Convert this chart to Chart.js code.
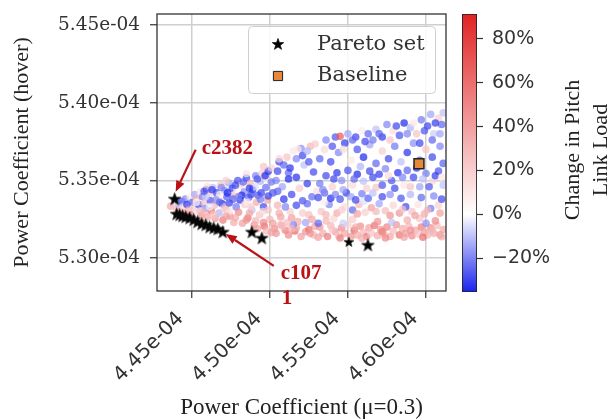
<!DOCTYPE html>
<html><head><meta charset="utf-8">
<script src="https://cdn.jsdelivr.net/npm/chart.js@4/dist/chart.umd.min.js"></script>
<style>
html,body{margin:0;padding:0;background:#fff;}
#wrap{position:relative;width:612px;height:419px;overflow:hidden;}
#main{position:absolute;left:0;top:0;}
#cbar{position:absolute;left:440px;top:0;}
</style></head><body>
<div id="wrap"><canvas id="main" width="612" height="419"></canvas><canvas id="cbar" width="172" height="419"></canvas></div>
<script>
// ---- data (power coefficients in units of 1e-4) ----
const xTicks = [4.45, 4.50, 4.55, 4.60];
const yTicks = [5.30, 5.35, 5.40, 5.45];
const cTicks = [-20, 0, 20, 40, 60, 80];
const xRange = [4.4278, 4.6128];
const yRange = [5.2789, 5.4571];
const cRange = [-35.5, 91.4];

const paretoX = [4.4391, 4.4404, 4.4423, 4.4442, 4.4462, 4.4487, 4.4513, 4.4538, 4.4564, 4.4590, 4.4615, 4.4641, 4.4667, 4.4699, 4.4885, 4.4949, 4.5506, 4.5628];
const paretoY = [5.3382, 5.3285, 5.3279, 5.3272, 5.3266, 5.3259, 5.3247, 5.3234, 5.3221, 5.3214, 5.3201, 5.3195, 5.3188, 5.3169, 5.3169, 5.3130, 5.3105, 5.3085];

const baselineX = [4.5955];
const baselineY = [5.3608];

// design samples: [Cp forward, Cp hover, change in pitch link load %]
const samples = [
[4.4365,5.3335,35],[4.4405,5.3315,28],[4.4415,5.3350,-12],[4.4425,5.3300,45],[4.4435,5.3365,-28],
[4.4445,5.3330,18],[4.4455,5.3290,40],[4.4460,5.3380,-20],[4.4470,5.3345,-32],[4.4480,5.3310,30],
[4.4490,5.3395,8],[4.4495,5.3280,52],[4.4505,5.3360,-25],[4.4515,5.3325,22],[4.4520,5.3410,-15],
[4.4530,5.3380,35],[4.4540,5.3300,-5],[4.4545,5.3345,-30],[4.4555,5.3425,12],[4.4560,5.3275,48],
[4.4570,5.3395,-22],[4.4580,5.3355,25],[4.4585,5.3320,-18],[4.4595,5.3440,-34],[4.4600,5.3265,38],
[4.4610,5.3410,20],[4.4620,5.3370,-28],[4.4625,5.3305,60],[4.4635,5.3455,-10],[4.4645,5.3340,30],
[4.4650,5.3255,42],[4.4660,5.3420,-30],[4.4670,5.3385,15],[4.4675,5.3290,-12],[4.4685,5.3470,25],
[4.4695,5.3350,-35],[4.4700,5.3245,55],[4.4710,5.3435,-20],[4.4720,5.3315,32],[4.4725,5.3395,-26],
[4.4735,5.3485,-15],[4.4745,5.3270,45],[4.4750,5.3360,10],[4.4760,5.3450,-32],[4.4770,5.3230,35],
[4.4775,5.3410,28],[4.4785,5.3330,-22],[4.4795,5.3500,-28],[4.4800,5.3295,50],[4.4810,5.3375,-34],
[4.4815,5.3465,18],[4.4825,5.3225,40],[4.4835,5.3425,-18],[4.4840,5.3345,22],[4.4850,5.3515,-30],
[4.4860,5.3260,58],[4.4865,5.3390,-25],[4.4875,5.3480,30],[4.4885,5.3310,-10],[4.4890,5.3440,-33],
[4.4900,5.3215,45],[4.4910,5.3530,-20],[4.4915,5.3360,35],[4.4925,5.3405,-28],[4.4935,5.3280,25],
[4.4940,5.3495,-12],[4.4950,5.3545,20],[4.4960,5.3330,-30],[4.4965,5.3205,62],[4.4975,5.3455,-24],
[4.4985,5.3375,40],[4.4990,5.3560,-32],[4.5000,5.3250,30],[4.4530,5.3360,3],[4.4615,5.3330,-3],
[4.4680,5.3410,5],[4.4740,5.3300,12],[4.4790,5.3440,2],[4.4855,5.3360,8],[4.4905,5.3460,-6],
[4.4955,5.3300,15],[4.4555,5.3305,28],[4.4655,5.3375,-18],[4.4765,5.3380,-26],[4.4870,5.3290,38],
[4.4945,5.3420,-30],[4.4590,5.3395,-8],[4.4705,5.3330,20],[4.4820,5.3405,-35],[4.4980,5.3510,10],
[4.5010,5.3580,18],[4.5020,5.3420,-28],[4.5030,5.3190,48],[4.5040,5.3500,-20],[4.5050,5.3340,32],
[4.5060,5.3620,-30],[4.5070,5.3265,40],[4.5080,5.3460,-15],[4.5090,5.3380,-33],[4.5100,5.3180,55],
[4.5110,5.3650,25],[4.5120,5.3550,-25],[4.5130,5.3300,20],[4.5140,5.3410,-30],[4.5150,5.3690,10],
[4.5160,5.3175,65],[4.5170,5.3520,-34],[4.5180,5.3235,35],[4.5190,5.3450,22],[4.5200,5.3705,-18],
[4.5210,5.3370,-28],[4.5220,5.3600,-10],[4.5230,5.3170,45],[4.5240,5.3480,-32],[4.5250,5.3280,28],
[4.5260,5.3720,30],[4.5270,5.3395,-24],[4.5280,5.3555,-30],[4.5290,5.3205,38],[4.5300,5.3430,15],
[4.4920,5.3190,40],[4.4980,5.3175,30],[4.5040,5.3160,45],[4.5080,5.3205,25],[4.5120,5.3150,50],
[4.5170,5.3195,35],[4.5200,5.3140,40],[4.5250,5.3185,60],[4.5280,5.3150,28],[4.5320,5.3200,45],
[4.5340,5.3160,35],[4.5370,5.3140,55],[4.5390,5.3210,30],[4.5420,5.3170,42],[4.5440,5.3145,25],
[4.5460,5.3195,50],[4.5480,5.3160,38],[4.5500,5.3215,20],[4.5520,5.3140,45],[4.5540,5.3180,65],
[4.5560,5.3150,35],[4.5580,5.3205,48],[4.5600,5.3165,30],[4.5620,5.3140,55],[4.5635,5.3195,40],
[4.5650,5.3160,25],[4.5670,5.3210,60],[4.5690,5.3145,35],[4.5710,5.3185,45],[4.5730,5.3155,30],
[4.5750,5.3200,52],[4.5770,5.3140,38],[4.5790,5.3175,28],[4.5810,5.3215,45],[4.5830,5.3150,60],
[4.5850,5.3190,35],[4.5870,5.3160,42],[4.5890,5.3205,30],[4.5910,5.3145,50],[4.5930,5.3180,38],
[4.5950,5.3155,25],[4.5970,5.3200,55],[4.5990,5.3165,40],[4.6010,5.3150,32],[4.6030,5.3195,48],
[4.6050,5.3160,35],[4.6070,5.3210,28],[4.6090,5.3150,45],[4.6110,5.3185,38],[4.5150,5.3215,-20],
[4.5230,5.3230,-15],[4.5310,5.3225,-25],[4.5470,5.3225,-8],[4.5780,5.3230,-10],[4.6000,5.3225,-18],
[4.5360,5.3240,30],[4.5530,5.3250,22],[4.5690,5.3235,45],[4.5880,5.3245,35],[4.6060,5.3240,50],
[4.5410,5.3255,18],[4.5960,5.3255,25],[4.5330,5.3300,25],[4.5380,5.3345,-20],[4.5430,5.3290,35],
[4.5480,5.3330,15],[4.5530,5.3310,-25],[4.5570,5.3345,30],[4.5610,5.3295,20],[4.5650,5.3325,40],
[4.5700,5.3350,-15],[4.5740,5.3305,28],[4.5790,5.3340,18],[4.5830,5.3290,45],[4.5870,5.3330,-30],
[4.5910,5.3300,25],[4.5950,5.3345,12],[4.5990,5.3285,35],[4.6030,5.3320,-22],[4.6080,5.3340,20],
[4.5350,5.3360,8],[4.5600,5.3365,-5],[4.5310,5.3390,-30],[4.5350,5.3420,-25],[4.5390,5.3385,-34],
[4.5420,5.3410,-20],[4.5450,5.3380,-28],[4.5490,5.3420,-32],[4.5520,5.3395,-15],[4.5550,5.3375,-30],
[4.5590,5.3415,-22],[4.5630,5.3385,-26],[4.5660,5.3420,-10],[4.5720,5.3395,-30],[4.5770,5.3410,-18],
[4.5840,5.3385,-28],[4.5900,5.3410,-12],[4.5970,5.3390,-25],[4.6050,5.3400,-20],[4.6100,5.3380,-30],
[4.5320,5.3480,-22],[4.5360,5.3530,-30],[4.5400,5.3460,20],[4.5430,5.3550,-33],[4.5460,5.3500,-18],
[4.5500,5.3565,-28],[4.5530,5.3470,15],[4.5560,5.3540,-35],[4.5600,5.3495,-10],[4.5640,5.3560,-30],
[4.5680,5.3455,25],[4.5700,5.3540,-32],[4.5740,5.3575,-20],[4.5780,5.3500,-28],[4.5820,5.3550,-34],
[4.5860,5.3470,10],[4.5880,5.3565,-25],[4.5920,5.3520,-30],[4.5960,5.3460,-15],[4.6000,5.3545,-22],
[4.6040,5.3495,18],[4.6080,5.3560,-28],[4.6110,5.3470,-10],[4.5380,5.3580,5],[4.5580,5.3590,-12],
[4.5320,5.3640,-25],[4.5350,5.3700,15],[4.5390,5.3620,-30],[4.5440,5.3680,-20],[4.5480,5.3740,-32],
[4.5520,5.3630,10],[4.5560,5.3700,-28],[4.5600,5.3650,-35],[4.5640,5.3730,-15],[4.5680,5.3610,-25],
[4.5720,5.3690,20],[4.5760,5.3640,-30],[4.5800,5.3720,-22],[4.5840,5.3620,-10],[4.5880,5.3680,-34],
[4.5920,5.3740,-18],[4.5960,5.3630,-28],[4.6000,5.3700,25],[4.6040,5.3650,-30],[4.6090,5.3720,-20],
[4.6110,5.3610,-26],[4.5420,5.3780,-28],[4.5450,5.3785,70],[4.5500,5.3800,-15],[4.5550,5.3780,-30],
[4.5590,5.3820,8],[4.5630,5.3800,-25],[4.5680,5.3830,-10],[4.5720,5.3780,-32],[4.5750,5.3860,-20],
[4.5790,5.3820,15],[4.5830,5.3790,-28],[4.5860,5.3870,-35],[4.5900,5.3840,-12],[4.5940,5.3800,25],
[4.5970,5.3890,-22],[4.6010,5.3850,-30],[4.6050,5.3800,-8],[4.6080,5.3900,20],[4.6100,5.3860,-25],
[4.6030,5.3925,-15],[4.6110,5.3935,-10],[4.5660,5.3760,-22],[4.4600,5.3460,15],[4.4720,5.3500,20],
[4.4850,5.3545,12],[4.4960,5.3590,25],[4.5060,5.3640,18],[4.5180,5.3700,10],[4.5290,5.3735,22],
[4.4580,5.3430,-28],[4.4630,5.3440,-32],[4.4690,5.3455,-20],[4.4730,5.3420,-35],[4.4780,5.3470,-30],
[4.4830,5.3490,-25],[4.4870,5.3450,-33],[4.4920,5.3510,-28],[4.4970,5.3530,-35],[4.5010,5.3490,-22],
[4.5050,5.3560,-30],[4.5090,5.3600,-25],[4.5130,5.3580,-33],[4.5170,5.3640,-20],[4.5210,5.3660,-30],
[4.5250,5.3620,-28],[4.5240,5.3690,-12],[4.5120,5.3510,-35],[4.5050,5.3430,-26],[4.4990,5.3400,-30],
[4.4940,5.3380,-22],[4.4880,5.3410,-30],[4.4800,5.3395,-20],[4.4740,5.3355,-30],[4.4680,5.3360,-25],
[4.4580,5.3290,30],[4.4640,5.3280,25],[4.4720,5.3270,40],[4.4780,5.3260,35],[4.4850,5.3245,45],
[4.4910,5.3240,30],[4.4960,5.3230,50],[4.5020,5.3225,40],[4.5070,5.3215,35],[4.5110,5.3230,28],
[4.4880,5.3330,20],[4.4990,5.3310,25],[4.5060,5.3290,35],[4.5140,5.3260,40],[4.5210,5.3290,22],
[4.5270,5.3250,38],[4.5100,5.3330,-20],[4.5170,5.3340,-30],[4.5240,5.3350,-25],
[4.5340,5.3440,-20],[4.5410,5.3510,-30],[4.5470,5.3440,-15],[4.5540,5.3510,-25],[4.5620,5.3450,20],
[4.5660,5.3520,-30],[4.5720,5.3470,-28],[4.5760,5.3530,15],[4.5800,5.3450,-30],[4.5850,5.3520,-20],
[4.5900,5.3460,25],[4.5940,5.3580,-33],[4.5980,5.3510,-10],[4.6020,5.3460,-28],[4.6060,5.3530,-32],
[4.6100,5.3520,10],[4.5360,5.3760,-20],[4.5400,5.3720,-28],[4.5470,5.3700,15],[4.5530,5.3760,-25],
[4.5610,5.3750,-30],[4.5700,5.3800,-26],[4.5770,5.3760,25],[4.5810,5.3850,-30],[4.5880,5.3800,-20],
[4.5920,5.3870,10],[4.5990,5.3820,-28],[4.6060,5.3870,-32],[4.6090,5.3800,-15],[4.6040,5.3760,-25],
[4.5960,5.3740,-30],[4.5310,5.3135,40],[4.5450,5.3130,55],[4.5590,5.3128,35],[4.5740,5.3130,50],
[4.5860,5.3135,40],[4.5980,5.3135,60],[4.6100,5.3138,35],[4.5010,5.3165,40],[4.5140,5.3190,30],
[4.5260,5.3160,45],[4.5400,5.3185,25],[4.5550,5.3200,35],[4.5720,5.3170,55],[4.5900,5.3180,45],
[4.6040,5.3175,30],[4.5360,5.3280,30],[4.5460,5.3310,20],[4.5560,5.3285,40],[4.5680,5.3300,30],
[4.5770,5.3275,45],[4.5850,5.3315,25],[4.5930,5.3275,40],[4.6010,5.3310,30],[4.6090,5.3290,40]
];

// ---- styling ----
const cmapLo = [25, 35, 235], cmapMid = [255, 255, 255], cmapHi = [225, 35, 35];
function cmap(c, a) {
  let t, to;
  if (c < 0) { t = Math.min(1, c / cRange[0]); to = cmapLo; }
  else { t = Math.min(1, c / cRange[1]); to = cmapHi; }
  const rgb = cmapMid.map((m, i) => Math.round(m + (to[i] - m) * t));
  return `rgba(${rgb[0]},${rgb[1]},${rgb[2]},${a})`;
}
function makeStar(R) {
  const s = Math.ceil(R * 2 + 2), cv = document.createElement('canvas');
  cv.width = s; cv.height = s;
  const g = cv.getContext('2d'), cx = s / 2, cy = s / 2 + R * 0.08, r = R * 0.40;
  g.beginPath();
  for (let i = 0; i < 10; i++) {
    const ang = -Math.PI / 2 + i * Math.PI / 5, rr = i % 2 ? r : R;
    g.lineTo(cx + rr * Math.cos(ang), cy + rr * Math.sin(ang));
  }
  g.closePath(); g.fillStyle = '#000'; g.fill();
  g.lineWidth = 0.8; g.strokeStyle = '#111'; g.stroke();
  return cv;
}
const starBig = makeStar(6.5), starSmall = makeStar(5), starLegend = makeStar(6);
const fmtE = v => v.toFixed(2) + 'e-04';
const noPad = s => { s.paddingTop = 0; s.paddingBottom = 0; s.paddingLeft = 0; s.paddingRight = 0; };

const framePlugin = {
  id: 'frame',
  afterDraw(chart) {
    const {ctx, chartArea: a} = chart;
    ctx.save(); ctx.strokeStyle = '#333'; ctx.lineWidth = 1.3;
    ctx.strokeRect(a.left, a.top, a.right - a.left, a.bottom - a.top);
    ctx.restore();
  }
};
const legendPlugin = {
  id: 'boxLegend',
  afterDatasetsDraw(chart) {
    const {ctx, chartArea: a} = chart;
    const w = 187, h = 67, left = a.right - 11 - w, top = a.top + 12;
    ctx.save();
    ctx.beginPath(); ctx.roundRect(left + 0.5, top + 0.5, w, h, 4);
    ctx.fillStyle = 'rgba(255,255,255,0.85)'; ctx.fill();
    ctx.strokeStyle = '#cfcfcf'; ctx.lineWidth = 1; ctx.stroke();
    ctx.drawImage(starLegend, left + 30 - starLegend.width / 2, top + 18 - starLegend.height / 2);
    ctx.fillStyle = '#e8883a'; ctx.strokeStyle = '#222';
    Chart.helpers.drawPoint(ctx, {pointStyle: 'rect', radius: 6.5, borderWidth: 1.5}, left + 30, top + 50);
    ctx.fillStyle = '#333'; ctx.font = '21px "DejaVu Serif"';
    ctx.textAlign = 'left'; ctx.textBaseline = 'alphabetic';
    ctx.fillText('Pareto set', left + 69, top + 24);
    ctx.fillText('Baseline', left + 69, top + 55);
    ctx.restore();
  }
};
const annotations = [
  {idx: 0, lines: ['c2382'], tx: 27, ty: -50, sx: 21, sy: -49, ex: 1, ey: -7},
  {idx: 13, lines: ['c107', '1'], tx: 58, ty: 42, sx: 51, sy: 34, ex: 3, ey: 2}
];
const annotPlugin = {
  id: 'annot',
  afterDraw(chart) {
    const {ctx} = chart, xs = chart.scales.x, ys = chart.scales.y;
    ctx.save();
    const red = 'rgb(185,18,22)';
    annotations.forEach(an => {
      const px = xs.getPixelForValue(paretoX[an.idx]), py = ys.getPixelForValue(paretoY[an.idx]);
      const x1 = px + an.sx, y1 = py + an.sy, x2 = px + an.ex, y2 = py + an.ey;
      const ang = Math.atan2(y2 - y1, x2 - x1), L = 11, W = 4.5;
      const bx = x2 - L * Math.cos(ang), by = y2 - L * Math.sin(ang);
      ctx.strokeStyle = red; ctx.fillStyle = red; ctx.lineWidth = 2.2;
      ctx.beginPath(); ctx.moveTo(x1, y1); ctx.lineTo(bx, by); ctx.stroke();
      ctx.beginPath(); ctx.moveTo(x2, y2);
      ctx.lineTo(bx + W * Math.sin(ang), by - W * Math.cos(ang));
      ctx.lineTo(bx - W * Math.sin(ang), by + W * Math.cos(ang));
      ctx.closePath(); ctx.fill();
      ctx.font = 'bold 21px "Liberation Serif"'; ctx.textAlign = 'left'; ctx.textBaseline = 'middle';
      an.lines.forEach((t, i) => ctx.fillText(t, px + an.tx + (i ? 1 : 0), py + an.ty + i * 25));
    });
    ctx.restore();
  }
};

new Chart(document.getElementById('main'), {
  type: 'scatter',
  data: {datasets: [
    {label: 'Baseline', order: 0, data: baselineX.map((x, i) => ({x, y: baselineY[i]})),
      pointStyle: 'rect', pointRadius: 7, pointBackgroundColor: '#e8883a', pointBorderColor: '#222', pointBorderWidth: 1.5},
    {label: 'Pareto set', order: 1, data: paretoX.map((x, i) => ({x, y: paretoY[i]})),
      pointStyle: ctx => ctx.dataIndex === 16 ? starSmall : starBig, pointRadius: 6},
    {label: 'Samples', order: 2, data: samples.map(p => ({x: p[0], y: p[1]})),
      pointBackgroundColor: samples.map(p => cmap(p[2], 0.7)), pointBorderWidth: 0, pointRadius: 3.8}
  ]},
  options: {
    responsive: false, animation: false, events: [],
    layout: {autoPadding: false, padding: {left: 0, top: 14, right: 166, bottom: 0}},
    plugins: {legend: {display: false}, tooltip: {enabled: false}},
    scales: {
      x: {type: 'linear', min: xRange[0], max: xRange[1],
        afterBuildTicks: s => { s.ticks = xTicks.map(v => ({value: v})); },
        afterFit: s => { s.height = 128; noPad(s); },
        grid: {color: '#cfcfcf', lineWidth: 1.5, tickColor: '#333', tickLength: 7, tickWidth: 1.2},
        border: {display: false},
        ticks: {minRotation: 45, maxRotation: 45, autoSkip: false, padding: 9, labelOffset: -11, color: '#333',
          font: {family: '"DejaVu Sans"', size: 20}, callback: v => fmtE(v)},
        title: {display: true, text: 'Power Coefficient (\u03bc=0.3)', color: '#222',
          font: {family: '"Liberation Serif"', size: 23, lineHeight: 1}, padding: {top: 0, bottom: 0}}
      },
      y: {type: 'linear', min: yRange[0], max: yRange[1],
        afterBuildTicks: s => { s.ticks = yTicks.map(v => ({value: v})); },
        afterFit: s => { s.width = 157; noPad(s); },
        grid: {color: '#cfcfcf', lineWidth: 1.5, tickColor: '#333', tickLength: 7, tickWidth: 1.2},
        border: {display: false},
        ticks: {padding: 10, color: '#333', font: {family: '"DejaVu Serif"', size: 18.5}, callback: v => fmtE(v)},
        title: {display: true, text: 'Power Coefficient (hover)', color: '#222',
          font: {family: '"Liberation Serif"', size: 22, lineHeight: 1}, padding: {top: 11, bottom: 0}}
      }
    }
  },
  plugins: [framePlugin, legendPlugin, annotPlugin]
});

const cbTitlePlugin = {
  id: 'cbTitle',
  afterDraw(chart) {
    const {ctx, chartArea: a} = chart;
    ctx.save();
    ctx.fillStyle = '#222'; ctx.font = '22px "Liberation Serif"';
    ctx.textAlign = 'center'; ctx.textBaseline = 'middle';
    ctx.translate(a.right + 96, (a.top + a.bottom) / 2 - 3);
    ctx.rotate(-Math.PI / 2);
    ctx.fillText('Change in Pitch', 0, 0);
    ctx.fillText('Link Load', 0, 28);
    ctx.restore();
  }
};

new Chart(document.getElementById('cbar'), {
  type: 'bar',
  data: {labels: ['c'], datasets: [{
    data: [cRange],
    backgroundColor: ctx => {
      const {chart} = ctx, ys = chart.scales.y;
      if (!chart.chartArea || !ys) return '#fff';
      const y0 = ys.getPixelForValue(cRange[0]), y1 = ys.getPixelForValue(cRange[1]);
      const g = chart.ctx.createLinearGradient(0, y0, 0, y1);
      const mid = (0 - cRange[0]) / (cRange[1] - cRange[0]);
      g.addColorStop(0, cmap(cRange[0], 1));
      g.addColorStop(mid, cmap(0, 1));
      g.addColorStop(1, cmap(cRange[1], 1));
      return g;
    },
    borderColor: '#222', borderWidth: 1.2, borderSkipped: false, barPercentage: 1, categoryPercentage: 1
  }]},
  options: {
    responsive: false, animation: false, events: [],
    layout: {autoPadding: false, padding: {left: 22, top: 14, right: 0, bottom: 127}},
    plugins: {legend: {display: false}, tooltip: {enabled: false}},
    scales: {
      x: {display: false},
      y: {position: 'right', min: cRange[0], max: cRange[1],
        afterBuildTicks: s => { s.ticks = cTicks.map(v => ({value: v})); },
        afterFit: s => { s.width = 135; noPad(s); },
        grid: {drawOnChartArea: false, tickLength: 6, tickColor: '#333', tickWidth: 1.2},
        border: {display: false},
        ticks: {padding: 9, color: '#333', font: {family: '"DejaVu Sans"', size: 19},
          callback: v => (v < 0 ? '\u2212' + (-v) : v) + '%'}
      }
    }
  },
  plugins: [cbTitlePlugin]
});
</script>
</body></html>
